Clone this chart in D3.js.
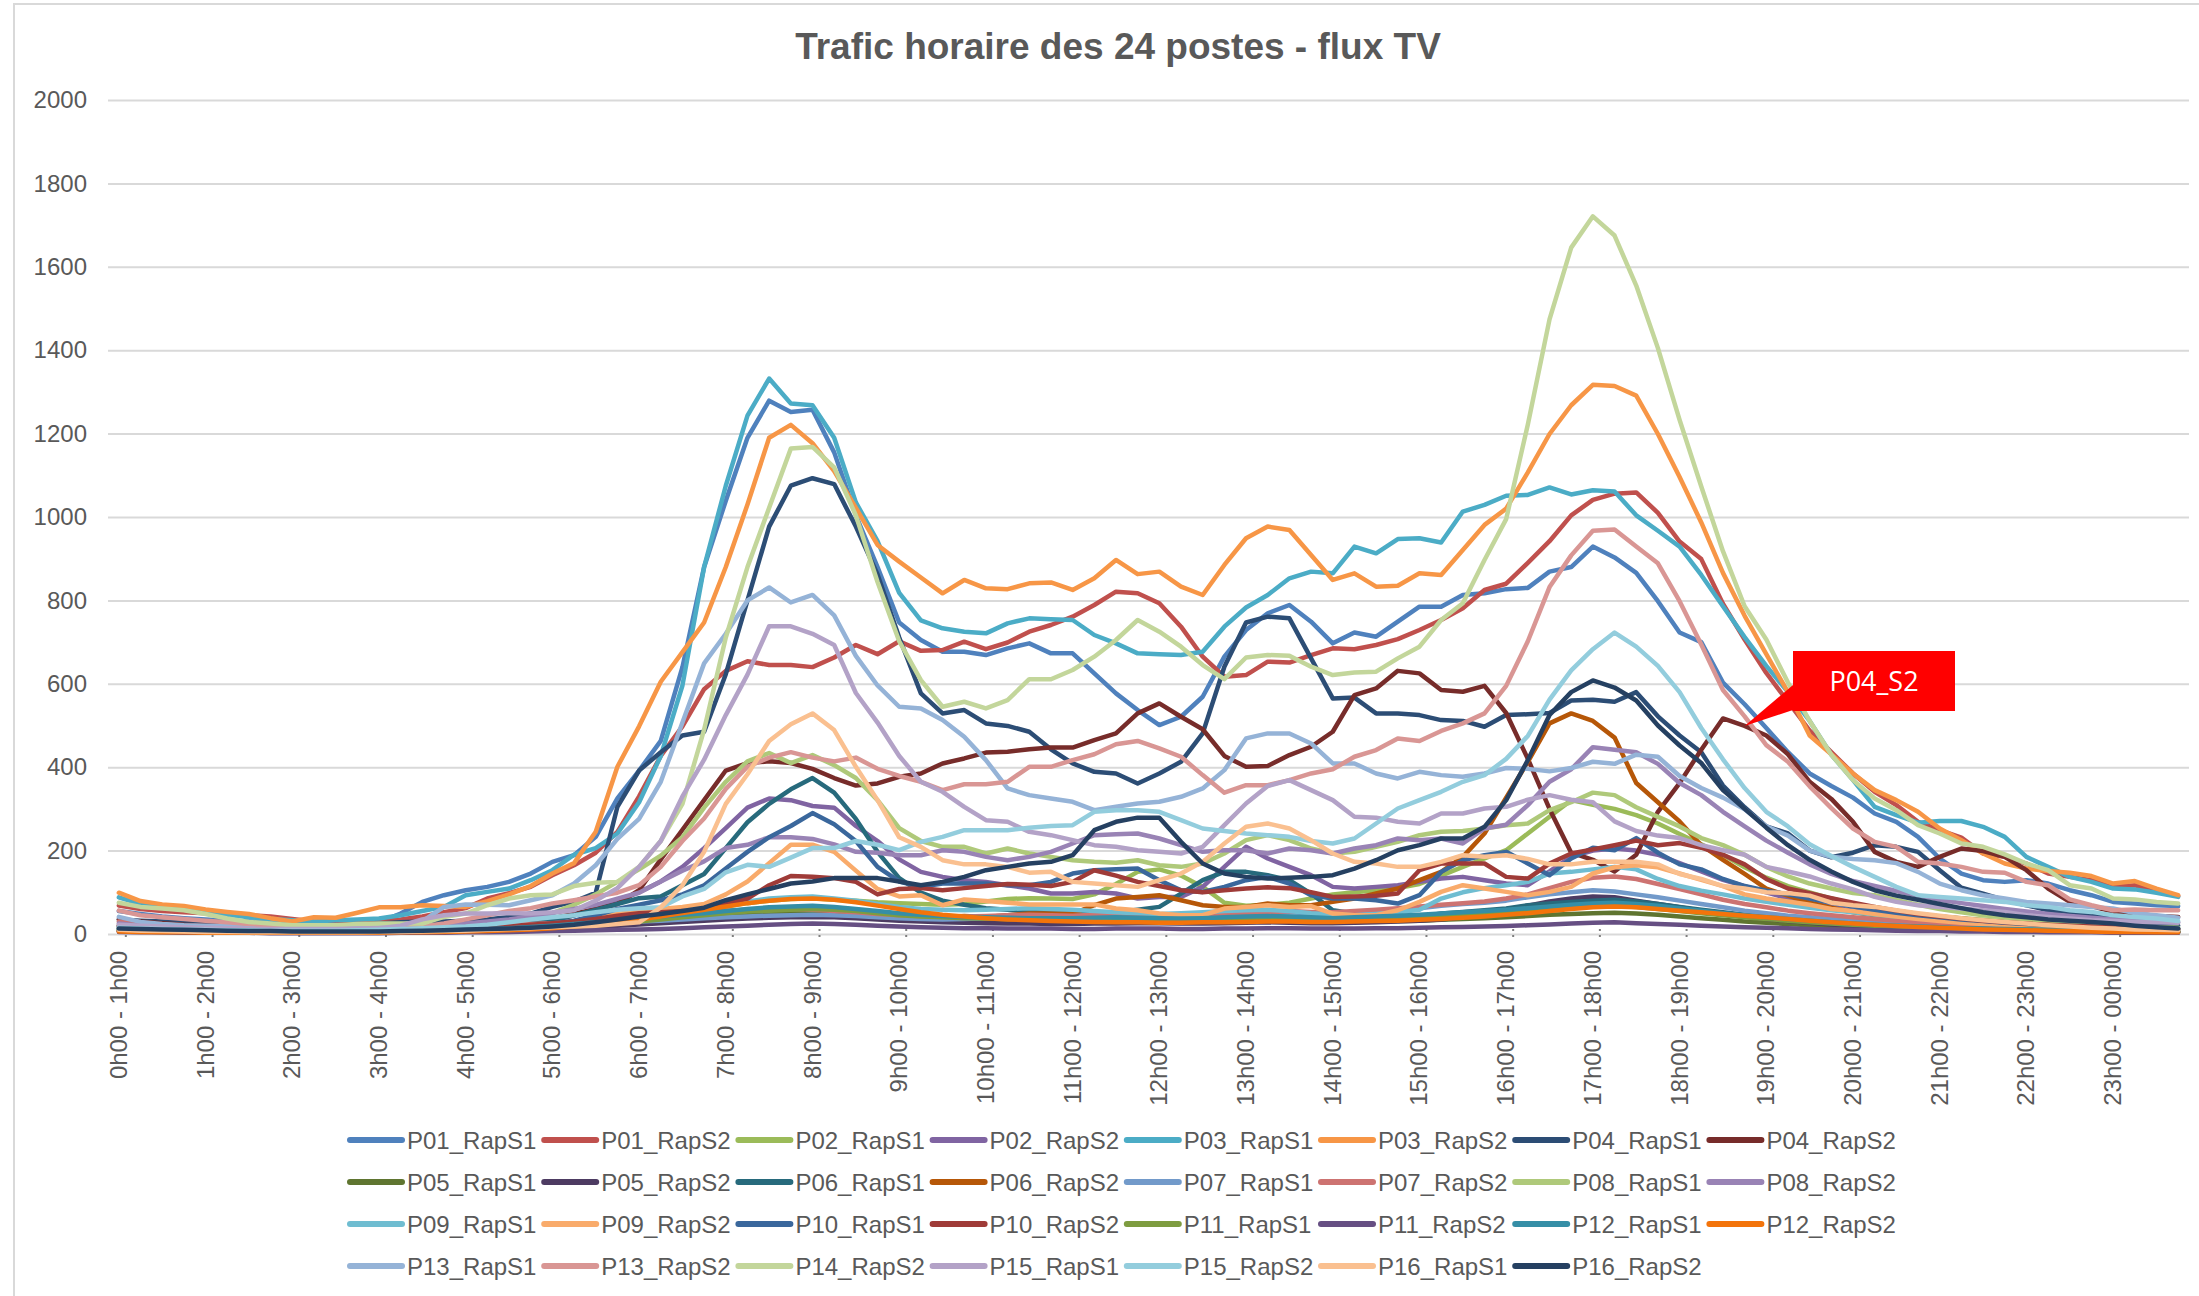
<!DOCTYPE html>
<html>
<head>
<meta charset="utf-8">
<script src="https://cdn.jsdelivr.net/npm/d3@7"></script>
<style>
  body { margin: 0; background: #fff; }
  text { font-family: "Liberation Sans", Arial, sans-serif; fill: #595959; }
</style>
</head>
<body>
<svg id="chart" width="2199" height="1296"></svg>
<script>
/* hour labels, one every 4 quarter-hour points */
var hourLabels = ["0h00 - 1h00", "1h00 - 2h00", "2h00 - 3h00", "3h00 - 4h00", "4h00 - 5h00", "5h00 - 6h00",
  "6h00 - 7h00", "7h00 - 8h00", "8h00 - 9h00", "9h00 - 10h00", "10h00 - 11h00", "11h00 - 12h00",
  "12h00 - 13h00", "13h00 - 14h00", "14h00 - 15h00", "15h00 - 16h00", "16h00 - 17h00", "17h00 - 18h00",
  "18h00 - 19h00", "19h00 - 20h00", "20h00 - 21h00", "21h00 - 22h00", "22h00 - 23h00", "23h00 - 00h00"];
var yTicks = [0, 200, 400, 600, 800, 1000, 1200, 1400, 1600, 1800, 2000];

var seriesNames = ["P01_RapS1", "P01_RapS2", "P02_RapS1", "P02_RapS2", "P03_RapS1", "P03_RapS2", "P04_RapS1", "P04_RapS2",
  "P05_RapS1", "P05_RapS2", "P06_RapS1", "P06_RapS2", "P07_RapS1", "P07_RapS2", "P08_RapS1", "P08_RapS2",
  "P09_RapS1", "P09_RapS2", "P10_RapS1", "P10_RapS2", "P11_RapS1", "P11_RapS2", "P12_RapS1", "P12_RapS2",
  "P13_RapS1", "P13_RapS2", "P14_RapS2", "P15_RapS1", "P15_RapS2", "P16_RapS1", "P16_RapS2"];

// 96 quarter-hour values per series
var P01_RapS1 = [55,48,42,38, 35,32,30,28, 26,24,22,22, 28,49,77,93,
  105,113,125,145, 173,189,233,325, 392,463,640,880, 1039,1190,1279,1252,
  1257,1155,1004,880, 747,705,677,677, 669,685,697,673, 673,625,577,537,
  501,521,569,665, 729,769,789,749, 697,723,713,749, 785,785,813,817,
  827,830,869,880, 929,903,866,798, 723,700,603,551, 494,436,385,355,
  327,289,269,233, 181,145,129,125, 129,121,105,93, 77,73,69,67];
var P01_RapS2 = [68,60,55,52, 50,47,45,42, 36,30,28,28, 30,35,42,52,
  62,85,98,113, 141,165,195,245, 330,427,498,587, 631,654,645,645,
  640,663,693,671, 702,679,681,701, 683,699,725,741, 761,789,821,817,
  793,737,665,617, 621,653,651,669, 685,683,693,707, 729,753,781,825,
  840,890,942,1004, 1041,1056,1059,1010, 941,899,792,706, 626,557,488,436,
  385,341,309,269, 249,231,193,185, 169,145,137,129, 113,117,105,91];
var P02_RapS1 = [20,17,15,13, 12,11,10,9, 8,8,8,8, 9,10,11,12,
  14,16,18,20, 22,25,28,32, 36,42,50,58, 66,74,80,84,
  86,82,80,76, 74,72,70,72, 78,84,86,85, 84,95,120,149,
  155,140,113,75, 68,70,75,85, 95,100,105,110, 120,140,161,181,
  201,241,281,321, 310,300,285,265, 240,215,190,160, 135,115,100,85,
  72,62,55,48, 42,38,34,30, 27,24,21,19, 17,15,13,12];
var P02_RapS2 = [18,15,13,12, 10,9,8,8, 7,7,7,7, 8,9,10,12,
  14,17,20,25, 32,45,60,80, 100,126,161,206, 254,303,325,321,
  307,303,259,223, 179,149,137,129, 125,117,109,97, 97,101,97,85,
  89,89,113,161, 209,181,161,141, 113,109,113,117, 125,133,137,129,
  121,117,150,185, 200,205,200,190, 170,150,130,115, 100,85,75,65,
  56,48,42,37, 33,29,26,23, 20,18,16,14, 13,12,11,10];
var P03_RapS1 = [88,72,64,58, 52,46,40,36, 33,30,33,35, 37,45,55,65,
  93,101,109,129, 153,190,206,241, 316,427,596,880, 1075,1243,1332,1272,
  1268,1190,1035,942, 818,752,733,725, 721,745,757,755, 753,717,697,673,
  671,669,677,737, 783,813,853,869, 865,929,913,947, 949,939,1013,1029,
  1051,1053,1071,1054, 1064,1061,1004,967, 929,861,786,712, 643,580,511,430,
  369,305,285,267, 271,271,257,233, 185,161,137,125, 109,107,99,89];
var P03_RapS2 = [99,79,71,67, 59,53,48,38, 30,40,39,51, 64,64,69,67,
  65,79,95,115, 145,170,245,401, 498,605,676,747, 880,1030,1190,1221,
  1177,1110,1022,933, 893,855,817,849, 829,827,841,843, 825,853,897,863,
  869,833,813,885, 949,977,969,909, 849,865,833,835, 865,861,921,981,
  1020,1107,1199,1268, 1317,1314,1291,1199, 1096,987,866,763, 671,580,476,431,
  385,345,321,293, 253,225,193,169, 157,151,147,139, 121,127,109,93];
var P04_RapS1 = [35,32,30,28, 27,25,24,22, 20,20,21,22, 25,28,30,30,
  32,35,41,49, 65,78,99,305, 392,436,476,485, 623,800,977,1075,
  1093,1079,977,862, 711,577,529,537, 505,499,485,443, 409,389,385,361,
  385,413,481,641, 747,761,757,661, 565,567,529,529, 525,513,511,497,
  525,527,530,560, 562,557,580,522, 476,436,356,304, 258,241,200,184,
  195,213,209,197, 153,111,97,81, 69,57,53,45, 37,29,24,20];
var P04_RapS2 = [35,30,26,22, 20,18,15,13, 12,11,10,10, 10,11,12,14,
  16,20,25,30, 38,48,60,72, 105,179,250,321, 392,410,414,410,
  396,374,356,361, 377,385,409,421, 435,437,443,447, 447,465,481,529,
  553,521,491,427, 401,403,429,449, 485,573,589,631, 625,585,581,595,
  530,420,300,195, 178,150,190,293, 362,442,517,499, 476,431,365,324,
  269,197,173,161, 185,205,199,185, 153,109,77,67, 53,49,43,41];
var P05_RapS1 = [8,7,6,5, 5,4,4,4, 4,4,4,4, 4,5,5,6,
  7,8,10,12, 14,17,20,24, 28,32,36,40, 44,47,50,52,
  53,50,46,42, 38,35,33,31, 30,29,28,28, 28,29,30,29,
  28,27,28,29, 30,31,30,29, 28,29,30,31, 32,34,36,38,
  40,43,46,48, 50,51,49,46, 42,38,34,30, 27,24,21,19,
  17,15,13,12, 11,10,9,8, 7,7,6,6, 5,5,5,4];
var P05_RapS2 = [7,6,5,5, 4,4,4,3, 3,3,3,3, 3,4,4,5,
  6,7,8,10, 12,14,17,20, 23,26,29,32, 35,37,39,40,
  41,40,38,35, 32,30,28,27, 26,25,25,24, 24,25,25,26,
  26,25,25,26, 27,28,27,26, 26,27,28,30, 32,35,40,48,
  58,68,78,85, 90,88,80,72, 64,56,48,42, 36,31,27,23,
  20,17,15,13, 12,10,9,8, 7,7,6,6, 5,5,4,4];
var P06_RapS1 = [15,12,10,9, 8,7,7,6, 6,6,6,6, 7,8,9,11,
  13,16,20,25, 32,45,58,72, 86,90,117,144, 206,268,312,347,
  374,339,276,197, 134,99,80,70, 62,58,55,52, 50,48,52,58,
  65,97,129,149, 149,141,129,97, 57,49,45,41, 41,49,53,57,
  61,69,73,77, 80,82,78,72, 65,58,52,46, 40,35,30,26,
  22,19,17,15, 13,12,11,10, 9,9,8,8, 7,7,6,6];
var P06_RapS2 = [8,7,6,5, 5,4,4,4, 4,4,4,4, 5,5,6,7,
  8,10,12,14, 16,20,25,30, 35,40,45,50, 55,58,60,62,
  60,58,52,48, 45,42,41,43, 41,45,49,49, 49,69,85,89,
  93,81,69,65, 65,73,69,69, 77,85,97,109, 129,149,185,241,
  327,413,505,529, 511,471,362,316, 270,213,178,144, 109,92,75,63,
  52,45,38,33, 28,24,21,18, 16,14,12,10, 9,8,7,6];
var P07_RapS1 = [10,9,8,7, 6,6,5,5, 5,5,5,5, 5,6,7,8,
  10,12,14,16, 18,21,24,28, 30,32,35,38, 40,42,44,45,
  46,45,43,40, 38,36,35,36, 38,40,42,41, 40,42,45,44,
  42,40,41,45, 48,50,52,50, 48,50,55,58, 62,68,72,75,
  80,88,95,100, 105,102,95,88, 80,72,64,56, 50,44,40,36,
  32,29,26,23, 21,19,17,15, 14,13,12,11, 10,9,9,8];
var P07_RapS2 = [30,26,23,20, 18,16,14,13, 12,11,11,11, 12,13,14,16,
  18,20,22,24, 26,28,30,33, 36,40,44,48, 52,56,58,60,
  58,55,52,48, 45,43,42,42, 43,45,46,45, 44,46,48,47,
  46,44,45,48, 50,52,55,53, 52,55,58,62, 66,70,74,78,
  85,95,110,125, 135,138,132,120, 108,95,82,72, 64,56,50,45,
  40,36,32,29, 26,24,22,20, 18,17,16,15, 14,13,12,12];
var P08_RapS1 = [12,10,9,8, 7,7,6,6, 6,6,6,6, 7,8,10,12,
  15,20,28,38, 50,70,95,125, 155,188,232,303, 365,414,434,410,
  429,405,374,321, 254,223,209,209, 193,205,193,185, 177,173,171,177,
  165,161,169,193, 225,237,225,205, 193,197,209,221, 237,245,247,253,
  261,265,297,316, 339,333,304,281, 258,230,213,190, 161,138,121,109,
  98,93,81,70, 60,52,45,40, 35,30,26,22, 20,18,16,15];
var P08_RapS2 = [25,20,17,15, 13,12,11,10, 9,9,9,10, 11,13,16,20,
  25,30,35,42, 50,60,70,85, 99,126,152,174, 206,214,232,232,
  228,215,197,195, 189,189,201,197, 185,177,185,197, 217,237,239,241,
  229,213,197,201, 201,193,205,201, 193,205,213,229, 225,229,217,253,
  262,309,365,395, 448,442,436,408, 362,333,293,258, 224,195,167,144,
  127,115,103,92, 82,74,67,60, 54,48,43,39, 35,32,30,28];
var P09_RapS1 = [18,15,13,11, 10,9,8,8, 7,7,7,7, 8,9,10,11,
  13,15,18,21, 25,30,35,40, 45,50,55,62, 70,78,85,88,
  90,85,80,72, 65,60,58,57, 58,60,62,60, 58,55,52,50,
  48,50,52,55, 57,58,55,50, 47,45,48,52, 58,85,100,110,
  117,125,145,149, 155,161,155,132, 115,104,95,85, 77,70,63,57,
  52,47,42,38, 34,31,28,25, 23,21,19,17, 16,15,14,13];
var P09_RapS2 = [15,12,10,9, 8,7,7,6, 6,6,6,6, 7,8,9,10,
  12,14,17,20, 24,30,38,48, 55,60,65,72, 95,126,170,214,
  214,197,152,108, 90,93,69,83, 79,75,71,71, 71,71,61,57,
  49,45,45,61, 65,69,65,67, 49,45,45,57, 77,101,117,109,
  101,93,101,113, 145,160,165,160, 145,130,115,95, 85,78,70,60,
  55,48,42,36, 31,27,24,21, 18,16,14,12, 11,10,9,8];
var P10_RapS1 = [12,10,9,8, 7,7,6,6, 6,6,6,6, 7,8,9,10,
  12,14,17,20, 25,32,45,60, 70,81,95,117, 157,197,232,259,
  290,263,223,161, 126,113,121,121, 121,117,117,125, 145,153,155,157,
  129,105,101,113, 129,137,121,93, 85,85,81,73, 93,149,177,189,
  197,169,141,181, 207,201,230,195, 167,155,132,115, 104,95,85,75,
  66,58,51,45, 40,35,31,27, 24,21,19,17, 15,13,12,11];
var P10_RapS2 = [20,17,15,13, 12,11,10,9, 8,8,8,8, 9,10,11,12,
  14,16,19,22, 26,30,36,44, 50,52,55,55, 72,85,117,139,
  137,134,125,95, 108,110,105,110, 115,120,118,115, 125,153,140,125,
  115,105,100,105, 109,112,110,100, 89,90,92,97, 153,169,169,169,
  137,133,169,193, 203,213,224,213, 218,207,190,167, 132,109,98,86,
  75,65,56,48, 42,37,32,28, 25,22,20,18, 16,14,13,12];
var P11_RapS1 = [10,9,8,7, 6,6,5,5, 5,5,5,5, 5,6,7,8,
  9,10,12,14, 16,19,22,26, 30,35,40,45, 50,54,56,58,
  60,58,55,50, 45,42,40,38, 37,36,36,35, 35,36,37,36,
  35,34,35,36, 37,38,37,36, 35,36,37,38, 40,42,45,48,
  52,56,60,63, 66,68,65,60, 55,50,45,40, 36,32,28,25,
  22,20,18,16, 14,13,12,11, 10,9,8,8, 7,7,6,6];
var P11_RapS2 = [5,4,4,3, 3,3,3,2, 2,2,2,2, 2,3,3,3,
  4,4,5,6, 7,8,9,10, 11,12,14,16, 18,20,22,24,
  25,24,22,20, 18,16,15,14, 14,13,13,13, 12,12,13,13,
  13,12,12,13, 13,14,14,13, 13,13,14,14, 15,16,17,18,
  19,21,23,25, 27,28,26,24, 22,20,18,16, 15,14,12,11,
  10,9,8,7, 7,6,6,5, 5,4,4,4, 3,3,3,3];
var P12_RapS1 = [12,10,9,8, 7,6,6,5, 5,5,5,5, 5,6,7,8,
  10,12,14,17, 20,24,28,33, 38,42,46,50, 55,60,64,66,
  68,65,60,55, 50,46,43,41, 40,39,38,38, 38,39,40,39,
  38,37,38,40, 42,43,42,40, 38,40,42,44, 46,49,52,55,
  58,62,66,70, 73,75,72,68, 62,56,50,45, 40,36,32,28,
  25,22,20,18, 16,14,13,12, 11,10,9,8, 8,7,7,6];
var P12_RapS2 = [6,5,4,4, 3,3,3,3, 3,3,3,3, 3,4,4,5,
  6,7,9,11, 14,18,22,28, 35,42,50,58, 66,74,80,84,
  85,82,76,68, 60,52,46,42, 38,35,33,31, 30,29,28,28,
  27,27,28,28, 29,30,30,29, 29,30,31,32, 34,36,39,42,
  46,50,55,60, 64,66,64,60, 56,52,48,44, 40,36,32,28,
  25,22,19,17, 15,13,11,10, 9,8,7,6, 5,5,4,4];
var P13_RapS1 = [41,29,24,21, 20,19,18,18, 17,17,18,18, 20,22,30,65,
  71,70,69,81, 93,121,165,228, 276,365,507,649, 720,800,831,795,
  813,764,667,596, 545,541,513,473, 417,349,333,325, 317,297,305,313,
  317,329,349,393, 469,481,481,457, 409,409,385,373, 389,381,377,385,
  398,396,390,398, 413,408,430,425, 379,350,327,299, 258,236,200,185,
  180,177,170,149, 121,105,93,85, 77,73,69,65, 61,50,45,39];
var P13_RapS2 = [56,45,40,36, 32,28,24,20, 17,14,12,12, 13,15,18,25,
  35,45,55,62, 73,81,90,99, 117,161,223,277, 348,401,423,436,
  423,414,423,396, 379,365,345,359, 359,365,401,401, 417,431,455,463,
  445,425,381,339, 357,357,369,385, 395,425,441,469, 463,487,505,529,
  595,702,832,908, 967,970,929,889, 798,694,585,522, 453,413,354,302,
  253,221,209,173, 169,161,149,147, 125,117,83,69, 57,59,57,57];
var P14_RapS2 = [75,65,61,57, 48,37,29,25, 21,21,21,24, 25,25,25,41,
  49,69,85,93, 95,115,123,125, 161,223,312,490, 711,880,1022,1164,
  1168,1119,1004,844, 702,609,545,557, 541,561,611,611, 633,665,705,753,
  725,689,645,611, 663,669,667,641, 621,627,629,661, 689,753,793,897,
  995,1222,1474,1646, 1721,1675,1555,1405, 1233,1073,918,786, 706,603,511,430,
  369,325,297,261, 241,217,209,191, 169,153,117,109, 85,83,77,73];
var P15_RapS1 = [22,20,18,16, 15,14,13,12, 12,12,12,13, 14,20,35,45,
  49,49,50,49, 52,57,80,110, 161,223,330,418, 525,622,738,738,
  720,693,578,507, 427,365,341,305, 273,269,245,237, 225,213,209,201,
  197,193,209,261, 313,355,369,345, 321,281,279,269, 265,289,289,301,
  305,322,333,322, 316,270,247,236, 230,213,201,190, 161,150,138,121,
  107,89,77,69, 65,61,57,53, 45,41,37,33, 31,29,28,27];
var P15_RapS2 = [15,13,12,11, 10,9,9,8, 8,8,8,9, 10,12,14,16,
  18,22,28,35, 40,45,52,58, 62,64,90,108, 148,166,161,183,
  206,206,223,214, 201,221,233,249, 249,249,255,259, 261,293,297,297,
  293,273,253,247, 241,237,233,223, 217,229,265,301, 321,341,365,381,
  420,475,562,632, 683,723,689,643, 580,494,419,350, 293,258,215,187,
  161,137,113,93, 89,85,81,77, 69,65,57,53, 45,41,37,31];
var P16_RapS1 = [10,8,7,6, 5,5,4,4, 4,4,4,4, 5,5,6,7,
  8,10,12,14, 16,18,20,24, 28,64,117,197, 312,383,463,503,
  529,489,401,321, 232,209,177,167, 167,161,147,149, 125,121,117,113,
  129,145,173,217, 257,265,253,225, 193,173,169,161, 161,173,189,185,
  189,180,167,167, 173,173,173,167, 144,132,115,109, 100,98,92,75,
  69,65,57,50, 44,38,33,29, 25,21,18,15, 13,11,10,9];
var P16_RapS2 = [13,12,11,10, 9,8,7,7, 6,6,6,6, 6,7,8,9,
  11,12,13,15, 18,22,28,35, 42,48,55,63, 81,95,108,121,
  126,134,134,134, 126,117,125,137, 153,161,169,173, 189,249,269,279,
  279,221,169,145, 137,133,135,137, 141,157,177,201, 213,229,229,257,
  321,417,525,580, 608,591,560,500, 452,410,345,300, 255,213,178,150,
  125,105,92,82, 72,62,52,45, 40,35,32,29, 25,20,16,13];

var seriesValues = [P01_RapS1, P01_RapS2, P02_RapS1, P02_RapS2, P03_RapS1, P03_RapS2, P04_RapS1, P04_RapS2,
  P05_RapS1, P05_RapS2, P06_RapS1, P06_RapS2, P07_RapS1, P07_RapS2, P08_RapS1, P08_RapS2,
  P09_RapS1, P09_RapS2, P10_RapS1, P10_RapS2, P11_RapS1, P11_RapS2, P12_RapS1, P12_RapS2,
  P13_RapS1, P13_RapS2, P14_RapS2, P15_RapS1, P15_RapS2, P16_RapS1, P16_RapS2];

var seriesColors = ["#4F81BD", "#C0504D", "#9BBB59", "#8064A2", "#4BACC6", "#F79646", "#2C4D75", "#772C2A",
  "#5F7530", "#4D3B62", "#276A7C", "#B65708", "#729ACA", "#CD7371", "#AFC97A", "#9983B5",
  "#6FBDD1", "#F9AB6B", "#3A679C", "#9F3B38", "#7E9C40", "#664F83", "#358EA6", "#F3740B",
  "#95B3D7", "#D99694", "#C3D69B", "#B3A2C7", "#93CDDD", "#FAC090", "#254061"];

// callout
var calloutSeries = "P04_RapS2", calloutIndex = 75, calloutText = "P04_S2";

var svg = d3.select("#chart");

/* chart frame */
svg.append("rect")
  .attr("x", 14).attr("y", 4)
  .attr("width", 2300).attr("height", 1400)
  .attr("fill", "#fff")
  .attr("stroke", "#D9D9D9").attr("stroke-width", 2);

var plotLeft = 108, plotRight = 2189, plotTop = 100, plotBottom = 934;

var x = d3.scalePoint()
  .domain(d3.range(96))
  .range([plotLeft, plotRight])
  .padding(0.5);

var y = d3.scaleLinear()
  .domain([0, 2000])
  .range([plotBottom, plotTop]);

/* title */
svg.append("text")
  .attr("x", 1118).attr("y", 59)
  .attr("text-anchor", "middle")
  .style("font-size", "37px")
  .style("font-weight", "bold")
  .text("Trafic horaire des 24 postes - flux TV");

/* y axis + gridlines */
var yAxis = svg.append("g")
  .attr("transform", "translate(" + plotLeft + ",0)")
  .call(d3.axisLeft(y).tickValues(yTicks).tickFormat(d3.format("d"))
    .tickSize(-(plotRight - plotLeft)).tickPadding(21));
yAxis.select(".domain").remove();
yAxis.selectAll(".tick line").attr("stroke", "#D9D9D9").attr("stroke-width", 2);
yAxis.selectAll(".tick text").style("font-size", "24px").attr("fill", "#595959")
  .style("font-family", "'Liberation Sans', Arial, sans-serif");

/* x labels + small tick dots */
var xg = svg.append("g");
xg.selectAll("line")
  .data(hourLabels)
  .enter().append("line")
  .attr("x1", function(d, k) { return x(k * 4) + 7; })
  .attr("x2", function(d, k) { return x(k * 4) + 7; })
  .attr("y1", 929).attr("y2", 939)
  .attr("stroke", "#7F7F7F").attr("stroke-width", 2)
  .attr("stroke-dasharray", "2,4");
xg.selectAll("text")
  .data(hourLabels)
  .enter().append("text")
  .attr("text-anchor", "end")
  .attr("transform", function(d, k) {
    return "translate(" + (x(k * 4) + 8) + ",951) rotate(-90)";
  })
  .style("font-size", "24px")
  .text(function(d) { return d; });

/* lines */
var line = d3.line()
  .x(function(d, i) { return x(i); })
  .y(function(d) { return y(d); });

svg.append("g").selectAll("path")
  .data(seriesValues)
  .enter().append("path")
  .attr("d", line)
  .attr("fill", "none")
  .attr("stroke", function(d, k) { return seriesColors[k]; })
  .attr("stroke-width", 4.5)
  .attr("stroke-linejoin", "round")
  .attr("stroke-linecap", "round");

/* callout */
var cv = seriesValues[seriesNames.indexOf(calloutSeries)][calloutIndex];
var tipX = x(calloutIndex), tipY = y(cv);
var boxX = 1793, boxY = 651, boxW = 162, boxH = 60;
svg.append("path")
  .attr("d", "M" + boxX + "," + (boxY + 34) + "L" + tipX + "," + tipY + "L" + boxX + "," + (boxY + 59) + "Z")
  .attr("fill", "#FF0000");
svg.append("rect")
  .attr("x", boxX).attr("y", boxY)
  .attr("width", boxW).attr("height", boxH)
  .attr("fill", "#FF0000");
svg.append("text")
  .attr("x", boxX + boxW / 2).attr("y", boxY + boxH / 2 + 10)
  .attr("text-anchor", "middle")
  .style("fill", "#fff")
  .style("font-family", "'Open Sans', sans-serif")
  .style("font-size", "27px")
  .text(calloutText);

/* legend: 8 per row */
var legend = svg.append("g");
var items = legend.selectAll("g")
  .data(seriesNames)
  .enter().append("g")
  .attr("transform", function(d, k) {
    return "translate(" + (350 + (k % 8) * 194.2) + "," + (1140 + Math.floor(k / 8) * 42) + ")";
  });
items.append("line")
  .attr("x1", 0).attr("x2", 52)
  .attr("stroke", function(d, k) { return seriesColors[k]; })
  .attr("stroke-width", 6)
  .attr("stroke-linecap", "round");
items.append("text")
  .attr("x", 57).attr("y", 8.5)
  .style("font-size", "24px")
  .text(function(d) { return d; });
</script>
</body>
</html>
